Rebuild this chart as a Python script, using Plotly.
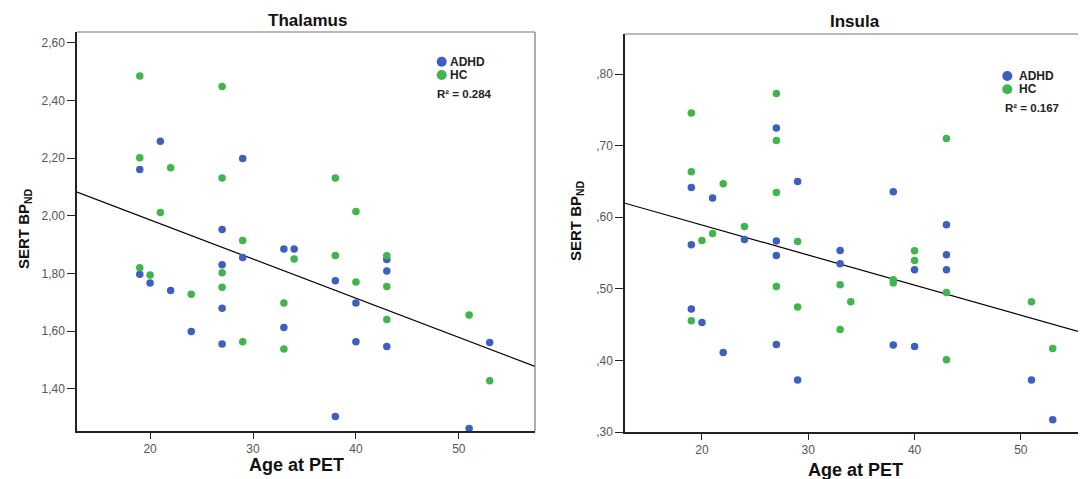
import numpy as np
import plotly.graph_objects as go

# The page body has the browser's default 8px margin, so the figure is sized to fill
# the rest of the 1086x479 window and all positions below are window pixels.
OFF = 8
W, H = 1086 - OFF, 479 - OFF

# ---------------- data ----------------
thal_adhd_age = [21, 29, 19, 27, 33, 34, 29, 19, 20, 22, 27, 27, 24, 27, 33, 43, 43, 38, 40, 40, 43, 53, 38, 51]
thal_adhd_bp = [2.259, 2.199, 2.161, 1.953, 1.885, 1.885, 1.856, 1.798, 1.767, 1.741, 1.831, 1.680,
                1.599, 1.556, 1.613, 1.849, 1.809, 1.775, 1.698, 1.564, 1.547, 1.561, 1.304, 1.263]
thal_hc_age = [19, 27, 19, 22, 27, 21, 29, 34, 19, 20, 24, 27, 27, 29, 33, 33, 38, 43, 40, 43, 43, 51, 53, 38, 40]
thal_hc_bp = [2.485, 2.449, 2.202, 2.167, 2.132, 2.012, 1.915, 1.851, 1.820, 1.795, 1.728, 1.803, 1.753,
              1.564, 1.698, 1.538, 1.863, 1.862, 1.771, 1.755, 1.641, 1.656, 1.428, 2.132, 2.015]

ins_adhd_age = [27, 19, 21, 29, 19, 24, 27, 27, 19, 20, 22, 27, 29, 43, 33, 33, 40, 43, 43, 38, 40, 51, 53, 38]
ins_adhd_bp = [0.7246, 0.6416, 0.6268, 0.650, 0.5616, 0.569, 0.5667, 0.5467, 0.4718, 0.4531, 0.4112, 0.4224,
               0.3726, 0.5895, 0.5536, 0.535, 0.5267, 0.5476, 0.5267, 0.4215, 0.4196, 0.3726, 0.3172, 0.6356]
ins_hc_age = [19, 27, 27, 19, 22, 27, 24, 21, 20, 29, 27, 29, 19, 40, 40, 38, 38, 33, 34, 43, 51, 33, 43, 53, 43]
ins_hc_bp = [0.7455, 0.773, 0.7073, 0.6636, 0.6468, 0.6346, 0.587, 0.5774, 0.5676, 0.5662, 0.5034, 0.4746,
             0.4554, 0.5532, 0.5397, 0.5127, 0.5081, 0.5057, 0.482, 0.495, 0.482, 0.4433, 0.401, 0.4168, 0.71]

x_ticks = [20, 30, 40, 50]
thal_yticks = [1.40, 1.60, 1.80, 2.00, 2.20, 2.40, 2.60]
thal_yticklabels = ["1,40", "1,60", "1,80", "2,00", "2,20", "2,40", "2,60"]
ins_yticks = [0.30, 0.40, 0.50, 0.60, 0.70, 0.80]
ins_yticklabels = [",30", ",40", ",50", ",60", ",70", ",80"]

titles = ["Thalamus", "Insula"]
groups = ["ADHD", "HC"]
r2_texts = ["R\u00b2 = 0.284", "R\u00b2 = 0.167"]

# ---------------- style ----------------
BLUE = "#3d5fc1"
GREEN = "#3fb54b"
FONT = "Liberation Sans, Arial, sans-serif"
TICKC = "#555555"

thal_xr = [12.9, 57.4]
thal_yr = [1.254, 2.638]
ins_xr = [12.76, 56.13]
ins_yr = [0.30, 0.856]


def px(x):
    return (x - OFF) / W


def py(y):
    return 1 - (y - OFF) / H


fig = go.Figure()

panels = [
    ("x", "y", thal_adhd_age, thal_adhd_bp, thal_hc_age, thal_hc_bp, thal_xr),
    ("x2", "y2", ins_adhd_age, ins_adhd_bp, ins_hc_age, ins_hc_bp, ins_xr),
]

for xa, ya, aa, ab, ha, hb, xr in panels:
    all_age = np.array(aa + ha, dtype=float)
    all_bp = np.array(ab + hb, dtype=float)
    slope, icpt = np.polyfit(all_age, all_bp, 1)
    lx = np.array(xr)
    fig.add_trace(go.Scatter(x=lx, y=icpt + slope * lx, mode="lines",
                             line=dict(color="black", width=1.2),
                             xaxis=xa, yaxis=ya, showlegend=False, hoverinfo="skip"))
    fig.add_trace(go.Scatter(x=aa, y=ab, mode="markers", name="ADHD",
                             marker=dict(color=BLUE, size=7.5, line=dict(width=0)),
                             xaxis=xa, yaxis=ya, showlegend=False))
    fig.add_trace(go.Scatter(x=ha, y=hb, mode="markers", name="HC",
                             marker=dict(color=GREEN, size=7.5, line=dict(width=0)),
                             xaxis=xa, yaxis=ya, showlegend=False))

axis_common = dict(showgrid=False, zeroline=False, showline=True, linecolor="#222222",
                   linewidth=1.5, ticks="outside", tickcolor="#222222", tickwidth=1,
                   automargin=False,
                   tickfont=dict(family=FONT, size=12, color=TICKC))

fig.update_layout(
    width=W, height=H,
    margin=dict(l=0, r=0, t=0, b=0, pad=0),
    paper_bgcolor="white", plot_bgcolor="white",
    showlegend=False,
    xaxis=dict(domain=[px(77), px(535)], range=thal_xr, tickvals=x_ticks, ticklen=6,
               anchor="y", **axis_common),
    yaxis=dict(domain=[py(431), py(32)], range=thal_yr, tickvals=thal_yticks,
               ticktext=thal_yticklabels, ticklen=8, anchor="x", **axis_common),
    xaxis2=dict(domain=[px(625), 1.0], range=ins_xr, tickvals=x_ticks, ticklen=6,
                anchor="y2", **axis_common),
    yaxis2=dict(domain=[py(432), py(34)], range=ins_yr, tickvals=ins_yticks,
                ticktext=ins_yticklabels, ticklen=8, anchor="x2", **axis_common),
)

shapes = []
# frame: top + right for left panel, top for right panel (right edge is cropped)
shapes.append(dict(type="line", xref="x domain", yref="y domain", x0=0, x1=1, y0=1, y1=1,
                   line=dict(color="#777777", width=1.2)))
shapes.append(dict(type="line", xref="x domain", yref="y domain", x0=1, x1=1, y0=0, y1=1,
                   line=dict(color="#777777", width=1.2)))
shapes.append(dict(type="line", xref="x2 domain", yref="y2 domain", x0=0, x1=1, y0=1, y1=1,
                   line=dict(color="#777777", width=1.2)))

annotations = []
# panel titles
annotations.append(dict(text="<b>Thalamus</b>", x=px(307), y=py(20.5), xref="paper", yref="paper",
                        showarrow=False, font=dict(family=FONT, size=17, color="#111111"),
                        xanchor="center", yanchor="middle"))
annotations.append(dict(text="<b>Insula</b>", x=px(854.5), y=py(21.5), xref="paper", yref="paper",
                        showarrow=False, font=dict(family=FONT, size=17, color="#111111"),
                        xanchor="center", yanchor="middle"))
# axis titles
for xc, yc in [(24, 229), (576, 221)]:
    annotations.append(dict(text="<b>SERT BP<sub>ND</sub></b>", x=px(xc), y=py(yc),
                            xref="paper", yref="paper", showarrow=False, textangle=-90,
                            font=dict(family=FONT, size=15, color="#111111"),
                            xanchor="center", yanchor="middle"))
for xc, yc in [(296, 465), (856, 470)]:
    annotations.append(dict(text="<b>Age at PET</b>", x=px(xc), y=py(yc),
                            xref="paper", yref="paper", showarrow=False,
                            font=dict(family=FONT, size=18, color="#111111"),
                            xanchor="center", yanchor="middle"))

# legends (keys + labels) and R² notes
legend_specs = [
    (441.7, 61.7, 75.0, 448.0, 434.5, 94.3, r2_texts[0]),
    (1007.3, 76.0, 89.3, 1017.0, 1002.5, 108.3, r2_texts[1]),
]
for mx, y1, y2, tx, rx, ry, r2 in legend_specs:
    for yy, col, lab in [(y1, BLUE, groups[0]), (y2, GREEN, groups[1])]:
        shapes.append(dict(type="circle", xref="paper", yref="paper",
                           xsizemode="pixel", ysizemode="pixel",
                           xanchor=px(mx), yanchor=py(yy), x0=-5, x1=5, y0=-5, y1=5,
                           fillcolor=col, line=dict(width=0)))
        annotations.append(dict(text="<b>" + lab + "</b>", x=px(tx), y=py(yy),
                                xref="paper", yref="paper", showarrow=False,
                                font=dict(family=FONT, size=12, color="#222222"),
                                xanchor="left", yanchor="middle"))
    annotations.append(dict(text="<b>" + r2 + "</b>", x=px(rx), y=py(ry),
                            xref="paper", yref="paper", showarrow=False,
                            font=dict(family=FONT, size=11.5, color="#222222"),
                            xanchor="left", yanchor="middle"))

fig.update_layout(shapes=shapes, annotations=annotations)

fig.write_html("out.html")
